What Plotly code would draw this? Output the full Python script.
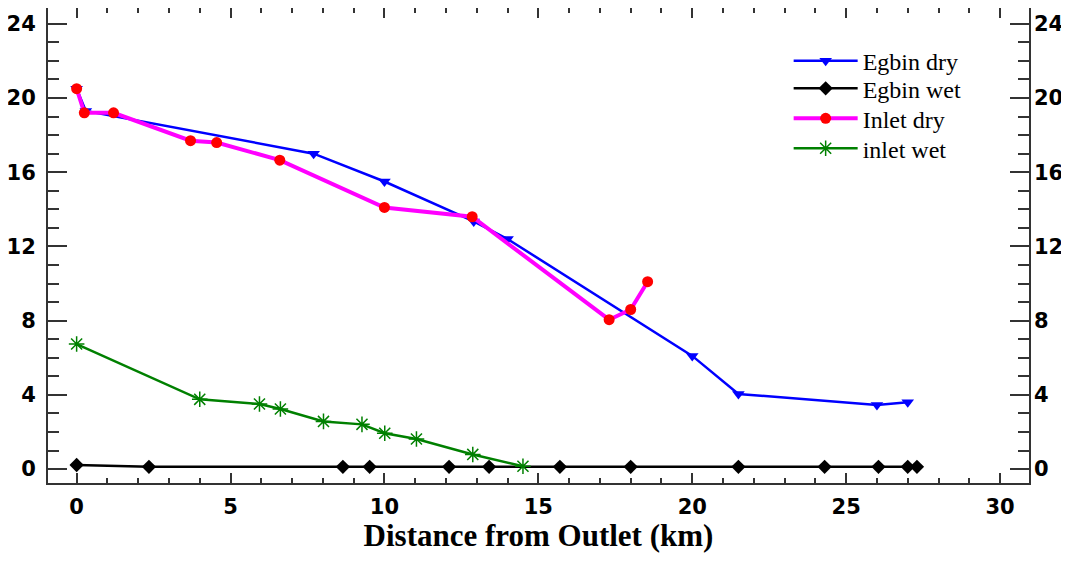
import plotly.graph_objects as go

# Data
egbin_dry_x = [0.0, 0.3, 7.7, 10.0, 12.9, 14.0, 20.0, 21.5, 26.0, 27.0]
egbin_dry_y = [20.5, 19.3, 17.0, 15.5, 13.35, 12.4, 6.1, 4.05, 3.45, 3.6]

egbin_wet_x = [0.0, 2.35, 8.65, 9.52, 12.1, 13.4, 15.7, 18.0, 21.5, 24.3, 26.05, 27.0, 27.3]
egbin_wet_y = [0.22, 0.12, 0.12, 0.12, 0.12, 0.12, 0.12, 0.12, 0.12, 0.12, 0.12, 0.12, 0.12]

inlet_dry_x = [0.0, 0.25, 1.2, 3.7, 4.55, 6.6, 10.0, 12.85, 17.3, 18.0, 18.55]
inlet_dry_y = [20.5, 19.2, 19.2, 17.7, 17.6, 16.65, 14.1, 13.6, 8.05, 8.6, 10.1]

inlet_wet_x = [0.0, 4.0, 5.94, 6.62, 8.02, 9.27, 10.01, 11.04, 12.87, 14.5]
inlet_wet_y = [6.74, 3.76, 3.51, 3.24, 2.57, 2.41, 1.93, 1.62, 0.79, 0.15]

y_ticks = [0, 4, 8, 12, 16, 20, 24]
x_ticks = [0, 5, 10, 15, 20, 25, 30]

fig = go.Figure()
fig.add_trace(go.Scatter(x=egbin_dry_x, y=egbin_dry_y, name="Egbin dry", mode="lines+markers",
                         legend="legend",
                         line=dict(color="#0000FF", width=2.5),
                         marker=dict(symbol="triangle-down", size=11, color="#0000FF")))
fig.add_trace(go.Scatter(x=egbin_wet_x, y=egbin_wet_y, name="Egbin wet", mode="lines+markers",
                         legend="legend2",
                         line=dict(color="#000000", width=2.5),
                         marker=dict(symbol="diamond", size=11, color="#000000")))
fig.add_trace(go.Scatter(x=inlet_dry_x, y=inlet_dry_y, name="Inlet dry", mode="lines+markers",
                         legend="legend3",
                         line=dict(color="#FF00FF", width=4),
                         marker=dict(symbol="circle", size=11, color="#FF0000")))
fig.add_trace(go.Scatter(x=inlet_wet_x, y=inlet_wet_y, name="inlet wet", mode="lines+markers",
                         legend="legend4",
                         line=dict(color="#008000", width=2.5),
                         marker=dict(symbol="asterisk-open", size=13, color="#008000",
                                     line=dict(color="#008000", width=1.5))))
# invisible trace for right axis
fig.add_trace(go.Scatter(x=[0], y=[0], yaxis="y2", mode="markers", showlegend=False,
                         marker=dict(opacity=0), hoverinfo="skip"))

yrange = [-0.75, 24.85]
tickfont = dict(family="DejaVu Sans", size=21, color="#000000", weight="bold")


def leg(ycen):
    return dict(x=0.755, y=ycen, xanchor="left", yanchor="middle",
                font=dict(family="Liberation Serif", size=24, color="#000000"),
                itemwidth=64, bgcolor="rgba(0,0,0,0)")


# page body has an 8px margin: figure is sized/offset to compensate
fig.update_layout(
    width=1061, height=545,
    margin=dict(l=40, r=40, t=0, b=70),
    paper_bgcolor="white", plot_bgcolor="white",
    showlegend=True,
    legend=leg(0.888), legend2=leg(0.830), legend3=leg(0.767), legend4=leg(0.704),
    xaxis=dict(range=[-0.93, 30.94], tickvals=x_ticks, ticks="inside", ticklen=10,
               tickwidth=1.5, tickcolor="#333333", automargin=False, ticklabelstandoff=4,
               minor=dict(dtick=1, ticklen=5, ticks="inside", tickcolor="#333333", tickwidth=1.5),
               showline=True, linecolor="#333333", linewidth=2, mirror="ticks",
               showgrid=False, zeroline=False, tickfont=tickfont,
               title=dict(text="Distance from Outlet (km)",
                          font=dict(family="Liberation Serif", size=31, color="#000000", weight="bold"),
                          standoff=8)),
    yaxis=dict(range=yrange, tickvals=y_ticks, ticks="inside", ticklen=19,
               tickwidth=1.5, tickcolor="#333333", automargin=False, ticklabelstandoff=6,
               minor=dict(dtick=1, ticklen=11, ticks="inside", tickcolor="#333333", tickwidth=1.5),
               showline=True, linecolor="#333333", linewidth=2, mirror=True,
               showgrid=False, zeroline=False, tickfont=tickfont),
    yaxis2=dict(range=yrange, tickvals=y_ticks, ticks="inside", ticklen=19,
                tickwidth=1.5, tickcolor="#333333", automargin=False, ticklabelstandoff=4,
                minor=dict(dtick=1, ticklen=11, ticks="inside", tickcolor="#333333", tickwidth=1.5),
                overlaying="y", side="right", anchor="x",
                showline=False, showgrid=False, zeroline=False, tickfont=tickfont),
)

fig.write_html("out.html")
